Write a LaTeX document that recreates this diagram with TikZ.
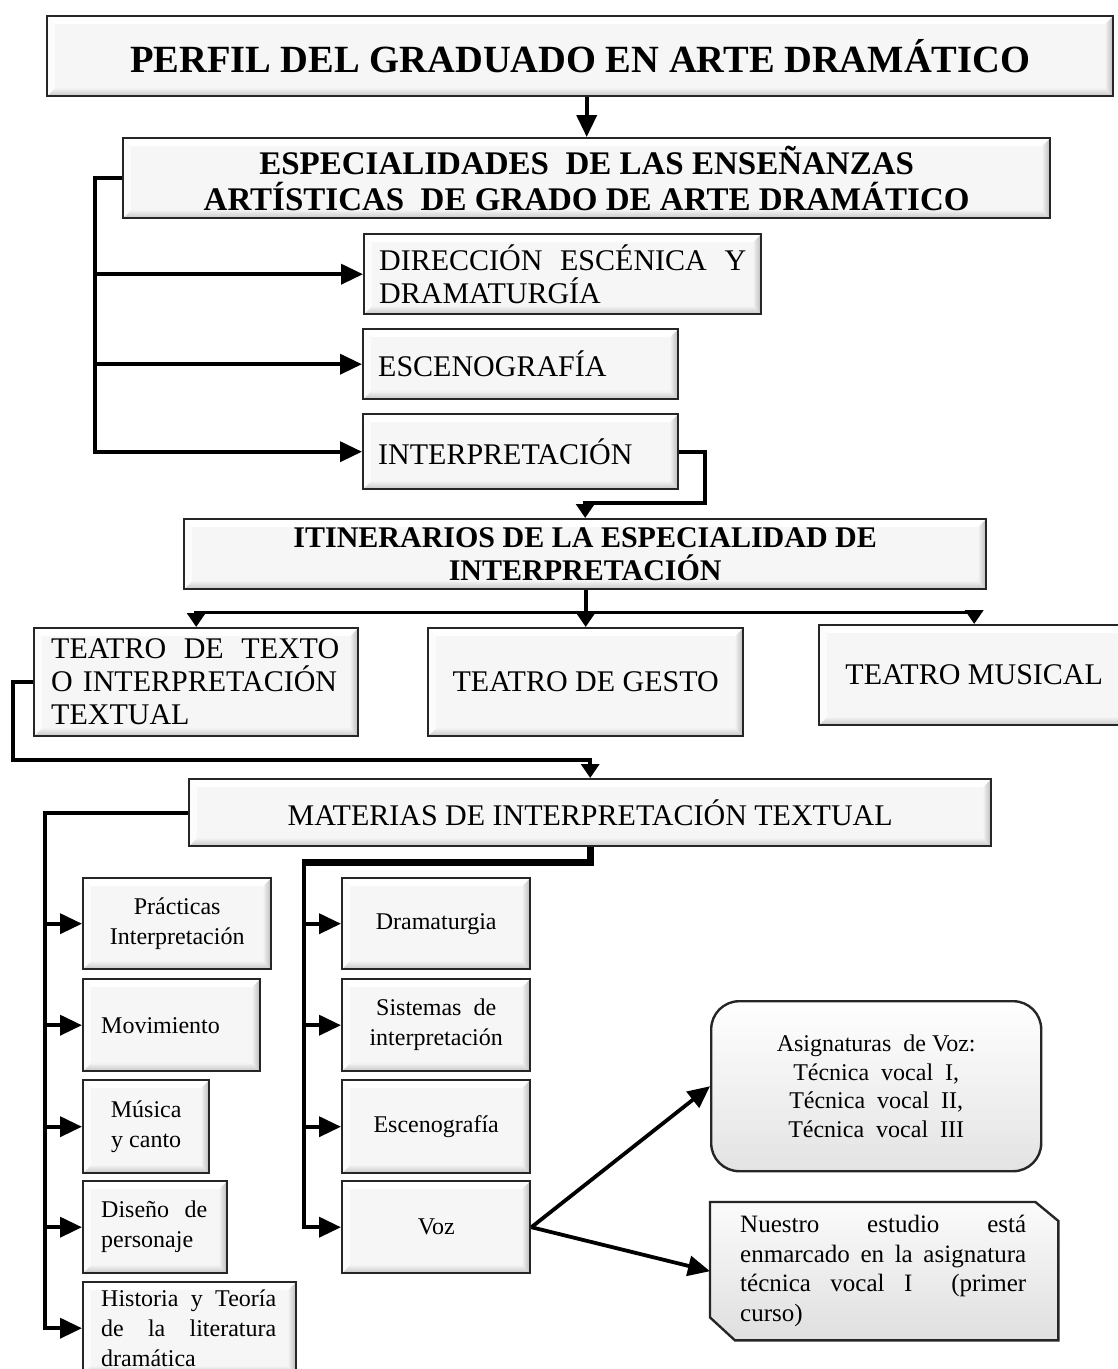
\documentclass[tikz,border=0pt]{standalone}
\usepackage{fontspec}
\setmainfont{Liberation Serif}
\usetikzlibrary{arrows.meta,calc,backgrounds}

\tikzset{
  bevel/.style={path picture={
    \coordinate (bvnw) at (path picture bounding box.north west);
    \coordinate (bvne) at (path picture bounding box.north east);
    \coordinate (bvsw) at (path picture bounding box.south west);
    \coordinate (bvse) at (path picture bounding box.south east);
    \fill[white] (bvnw) -- (bvne) -- ([shift={(-8pt,-8pt)}]bvne) -- ([shift={(8pt,-8pt)}]bvnw) -- cycle;
    \fill[gray!2] (bvnw) -- ([shift={(8pt,-8pt)}]bvnw) -- ([shift={(8pt,8pt)}]bvsw) -- (bvsw) -- cycle;
    \shade[top color=gray!10, bottom color=gray!45] (bvsw) -- (bvse) -- ([shift={(-8pt,8pt)}]bvse) -- ([shift={(8pt,8pt)}]bvsw) -- cycle;
    \shade[left color=gray!10, right color=gray!55] (bvne) -- (bvse) -- ([shift={(-8pt,8pt)}]bvse) -- ([shift={(-8pt,-8pt)}]bvne) -- cycle;
  }},
  panel/.style={draw=black!85, line width=2.4pt, fill=gray!7, bevel,
    anchor=north west, align=center, inner sep=0pt},
  capsfont/.style={font=\fontsize{30}{33}\selectfont},
  smallfont/.style={font=\fontsize{24}{30}\selectfont},
  wire/.style={line width=3.8pt, draw=black},
  conn/.style={wire, -{Triangle[length=22pt,width=20pt]}},
  elbow/.style={wire, -{Triangle[length=14pt,width=18pt]}},
}

% a line of text spread to a fixed width (words separated by \hfill)
\newcommand\spreadline[2]{\leavevmode\hbox to #1{#2}}

\begin{document}
\begin{tikzpicture}[x=1pt,y=-1pt]
\useasboundingbox (0,0) rectangle (1118,1369);

% --- top level ---
\node[panel, minimum width=1066, minimum height=80,
      font=\bfseries\fontsize{38.5}{40}\selectfont] (title) at (46,15)
  {PERFIL DEL GRADUADO EN ARTE DRAMÁTICO};

\node[panel, minimum width=927, minimum height=80,
      font=\bfseries\fontsize{33}{36}\selectfont] (spec) at (122,137)
  {ESPECIALIDADES\ \ DE LAS ENSEÑANZAS\\ARTÍSTICAS\ \ DE GRADO DE ARTE DRAMÁTICO};

% --- specialities ---
\node[panel, capsfont, minimum width=397, minimum height=80,
      text width=367, inner xsep=15pt, align=left] (dir) at (363,233)
  {\spreadline{367pt}{DIRECCIÓN\hfill ESCÉNICA\hfill Y}\\DRAMATURGÍA};
\node[panel, capsfont, minimum width=315, minimum height=70,
      text width=285, inner xsep=15pt, align=left] (esc) at (362,328)
  {ESCENOGRAFÍA};
\node[panel, capsfont, minimum width=315, minimum height=75,
      text width=285, inner xsep=15pt, align=left] (inter) at (362,413)
  {INTERPRETACIÓN};

% --- itineraries ---
\node[panel, minimum width=802, minimum height=70,
      font=\bfseries\fontsize{30}{33}\selectfont] (itin) at (183,518)
  {ITINERARIOS DE LA ESPECIALIDAD DE\\INTERPRETACIÓN};

\node[panel, capsfont, minimum width=324, minimum height=108,
      text width=290, inner xsep=17pt, align=left] (texto) at (33,627)
  {\spreadline{288pt}{TEATRO\hfill DE\hfill TEXTO}\\O INTERPRETACIÓN\\TEXTUAL};
\node[panel, capsfont, minimum width=315, minimum height=108] (gesto) at (427,627)
  {TEATRO DE GESTO};
\node[panel, capsfont, minimum width=310, minimum height=100] (musical) at (818,624)
  {TEATRO MUSICAL};

\node[panel, capsfont, minimum width=802, minimum height=67] (materias) at (188,778)
  {MATERIAS DE INTERPRETACIÓN TEXTUAL};

% --- subjects, left column ---
\node[panel, smallfont, minimum width=188, minimum height=91] (prac) at (82,877)
  {Prácticas\\Interpretación};
\node[panel, smallfont, minimum width=177, minimum height=92,
      text width=141, inner xsep=18pt, align=left] (movi) at (82,978)
  {Movimiento};
\node[panel, smallfont, minimum width=126, minimum height=93] (musi) at (82,1079)
  {Música\\y canto};
\node[panel, smallfont, minimum width=144, minimum height=92,
      text width=108, inner xsep=18pt, align=left] (dise) at (82,1180)
  {\spreadline{106pt}{Diseño\hfill de}\\personaje};
\node[panel, smallfont, minimum width=213, minimum height=92,
      text width=177, inner xsep=18pt, align=left] (hist) at (82,1281)
  {\spreadline{175pt}{Historia\hfill y\hfill Teoría}\\\spreadline{175pt}{de\hfill la\hfill literatura}\\dramática};

% --- subjects, right column ---
\node[panel, smallfont, minimum width=188, minimum height=91] (dram) at (341,877)
  {Dramaturgia};
\node[panel, smallfont, minimum width=188, minimum height=92] (sist) at (341,978)
  {Sistemas\ \ de\\interpretación};
\node[panel, smallfont, minimum width=188, minimum height=93] (esce) at (341,1079)
  {Escenografía};
\node[panel, smallfont, minimum width=188, minimum height=92] (voz) at (341,1180)
  {Voz};

% --- voice subjects ---
\node[draw=black!85, line width=2.4pt, rounded corners=28pt,
      top color=white, bottom color=gray!22, anchor=north west, align=center,
      inner sep=0pt, minimum width=330, minimum height=170,
      font=\fontsize{24}{28.5}\selectfont] (asig) at (710,1000)
  {Asignaturas\ \ de Voz:\\Técnica\ \ vocal\ \ I,\\Técnica\ \ vocal\ \ II,\\Técnica\ \ vocal\ \ III};

\node[anchor=north west, inner ysep=0pt, inner xsep=30pt, minimum width=348,
      minimum height=138, text width=288, align=left,
      font=\fontsize{25}{29.5}\selectfont] (nuestro) at (710,1202)
  {\spreadline{286pt}{Nuestro\hfill estudio\hfill está}\\
   \spreadline{286pt}{enmarcado\hfill en\hfill la\hfill asignatura}\\
   \spreadline{286pt}{técnica\hfill vocal\hfill I\hfill\hfill (primer}\\curso)};

% page ground and the cut-corner frame behind the last text block
\begin{scope}[on background layer]
  \fill[white] (0,0) rectangle (1118,1369);
  \draw[line width=2.4pt, draw=black!85, top color=gray!3, bottom color=gray!25]
    (nuestro.north west) -- ([xshift=-23pt]nuestro.north east)
    -- ([yshift=-19pt]nuestro.north east) -- (nuestro.south east)
    -- ([xshift=25pt]nuestro.south west) -- ([yshift=23pt]nuestro.south west) -- cycle;
\end{scope}

% --- connectors ---
\draw[conn] (spec.north |- title.south) -- (spec.north);

\coordinate (sb) at ([xshift=-27pt]spec.west);
\draw[conn] (spec.west) -- (sb) |- (inter.west);
\draw[conn] (sb |- dir.west) -- (dir.west);
\draw[conn] (sb |- esc.west) -- (esc.west);

\coordinate (ib) at (705,503);
\draw[elbow] (inter.east) -| (ib) -| (itin.north);

\coordinate (row) at ([yshift=-22pt]itin.south);
\draw[elbow] (gesto.north |- itin.south) -- (gesto.north);
\draw[elbow] (row) -| (texto.north);
\draw[elbow] (row) -| (musical.north);

\coordinate (tb) at (13,760);
\draw[elbow] (texto.west) -| (tb) -| (materias.north);

\coordinate (mb) at ([xshift=-143pt]materias.west);
\draw[conn] (materias.west) -- (mb) |- (hist.west);
\foreach \n in {prac,movi,musi,dise}
  \draw[conn] (mb |- \n.west) -- (\n.west);

\coordinate (rb) at (304,862);
\draw[line width=7pt] (materias.south) |- ([xshift=-1.6pt]rb);
\draw[conn] (rb) |- (voz.west);
\foreach \n in {dram,sist,esce}
  \draw[conn] (rb |- \n.west) -- (\n.west);

\draw[conn] (voz.east) -- (asig.west);
\draw[conn] (voz.east) -- (nuestro.west);
\end{tikzpicture}
\end{document}
